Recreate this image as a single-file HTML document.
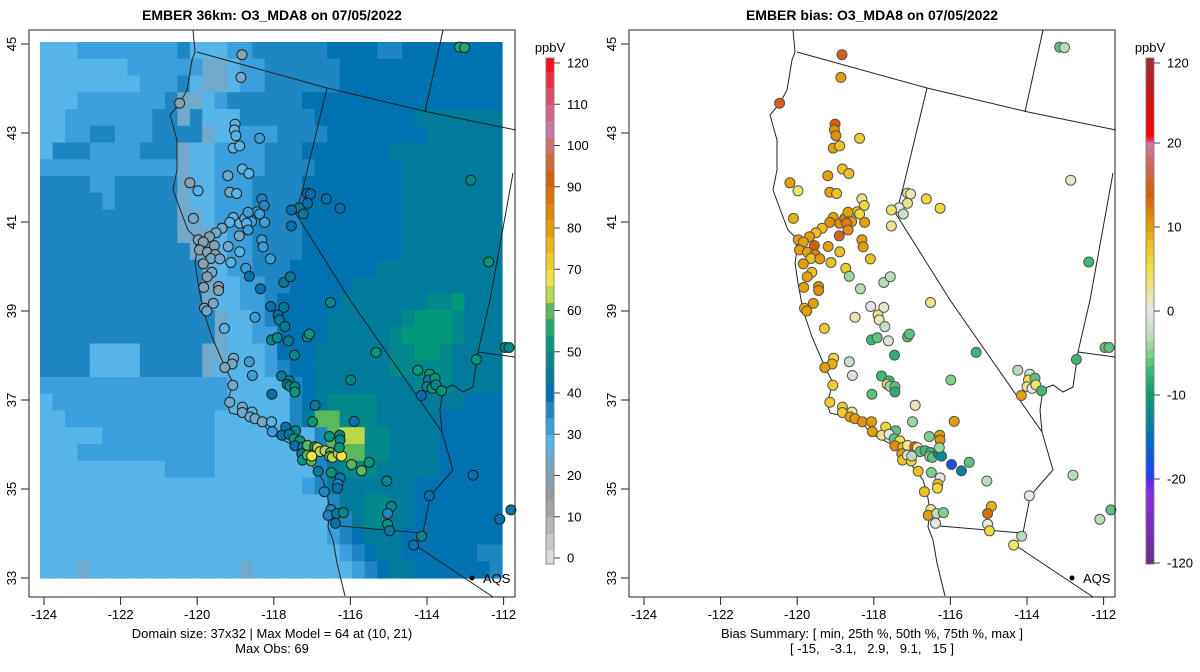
<!DOCTYPE html>
<html><head><meta charset="utf-8"><style>
html,body{margin:0;padding:0;background:#fff;}
svg{display:block;font-family:"Liberation Sans",sans-serif;}
</style></head><body>
<svg id="root" width="1200" height="672" viewBox="0 0 1200 672" xmlns="http://www.w3.org/2000/svg"></svg>
<script>
// ---------- DATA ----------
const gridRows = [
"1112222222231112233333344443344444444",
"1111111222222LL1223333334444444444444",
"1111111122231LL1223333334444444444444",
"11122222223LL1233333344444444444444444",
"11222222233L31113333334444444455555555",
"1122332223333L11222333344444444555555",
"13332222333L11222233344444445555555555",
"22222222222L11222233334444444555555555",
"33332233333L112223333444444445555555555",
"33333233333L112223333444444445555555555",
"33333333333LL12223333444444445555555555",
"33333333333LLL1223333444444445555555555",
"333333333333LL1223333444444445555555555",
"3333333333333L1223334444444555555555555",
"3333333333333L112233444445555555555556",
"3333333333333L112234444455555556675555",
"33333333333333L11234444555555677765555",
"33333333333333L11224444555556777765555",
"3333111133333LL11124445555556677655555",
"3333111133333L111123445555556666655555",
"2222222222222221111134555555556665555",
"1222222222222221111134566665555555444",
"1122222222222211111135GG6665555544444",
"11111222222222111111113GYY66555544444",
"11122222222222111111113GGG66555544444",
"1111111111222211111111356665555544444",
"1111111111111111111112355555554444444",
"1111111111111111111111135566554444444",
"1111111111111111111111123566554444444",
"1111111111111111111111123455544444444",
"1111111111111111111111112345544444433",
"111L111111111111L111111112345544444433"
];
const codeValues = {L:22,"1":28,"2":32,"3":36,"4":40,"5":44,"6":48,"7":52,"8":56,G:60,Y:64};
const stLon = [-118.83,-118.86,-120.46,-119.01,-119.03,-118.99,-118.37,-119.06,-118.89,-118.82,-118.65,-119.20,-120.19,-119.98,-119.15,-118.97,-118.31,-118.25,-118.43,-118.37,-120.10,-119.06,-119.15,-118.89,-118.76,-118.67,-118.58,-118.71,-118.24,-118.67,-119.35,-119.51,-119.68,-118.90,-119.97,-119.84,-119.94,-119.73,-119.55,-119.53,-119.64,-119.41,-119.19,-118.89,-118.31,-118.28,-118.09,-119.12,-119.84,-119.62,-119.74,-118.73,-118.64,-119.83,-119.44,-119.44,-118.35,-117.74,-117.57,-119.58,-119.81,-118.08,-117.74,-117.12,-117.04,-117.12,-117.34,-117.54,-117.23,-117.54,-116.63,-116.27,-116.52,-119.75,-118.49,-117.89,-117.86,-117.71,-119.29,-118.06,-117.91,-117.62,-117.12,-117.07,-117.46,-115.33,-119.05,-119.09,-119.28,-118.64,-118.56,-117.80,-117.60,-117.65,-117.58,-117.45,-117.45,-118.05,-115.99,-119.07,-119.15,-118.82,-118.82,-118.57,-118.62,-118.49,-118.30,-118.06,-118.04,-116.92,-115.90,-116.99,-117.69,-117.43,-117.79,-117.60,-117.47,-117.32,-117.45,-117.24,-117.12,-116.93,-116.86,-116.79,-116.66,-116.52,-116.54,-116.47,-116.32,-116.23,-117.27,-117.25,-117.12,-117.02,-117.01,-116.55,-116.28,-116.27,-116.29,-115.97,-115.71,-115.51,-116.84,-116.50,-116.27,-116.33,-116.34,-116.68,-115.05,-114.24,-113.93,-113.96,-113.79,-114.00,-113.87,-113.77,-113.62,-114.15,-112.71,-111.96,-111.86,-112.80,-112.10,-113.94,-116.51,-116.58,-116.36,-116.18,-116.39,-114.93,-115.03,-115.03,-114.98,-114.14,-114.35,-111.81,-113.15,-113.02,-112.86,-112.39];
const stLat = [44.76,44.25,43.67,43.20,43.07,42.94,42.88,42.66,42.71,42.19,42.09,42.04,41.88,41.70,41.67,41.64,41.52,41.37,41.23,41.18,41.08,41.10,40.99,40.97,41.08,41.22,41.01,40.97,40.99,40.82,40.86,40.76,40.67,40.69,40.60,40.55,40.37,40.32,40.47,40.27,40.18,40.17,40.45,40.33,40.60,40.44,40.17,40.09,40.06,39.87,39.77,39.96,39.78,39.53,39.55,39.46,39.50,39.64,39.77,39.17,39.06,39.10,39.08,41.65,41.63,41.42,41.32,41.27,41.18,40.91,41.52,41.31,39.19,39.00,38.86,38.91,38.80,38.65,38.61,38.35,38.40,38.33,38.42,38.48,38.01,38.07,37.94,37.81,37.73,37.86,37.55,37.54,37.43,37.35,37.31,37.30,37.18,37.13,37.45,37.33,36.95,36.84,36.72,36.73,36.62,36.58,36.51,36.51,36.29,36.88,36.52,36.51,36.39,36.31,36.21,36.23,36.13,36.08,35.97,35.94,35.98,35.95,35.93,35.84,35.86,35.82,35.73,35.71,35.80,35.74,35.79,35.65,35.76,35.63,35.74,36.18,36.21,36.10,35.93,35.55,35.41,35.60,35.40,35.37,35.25,35.11,35.02,34.94,35.18,37.67,37.58,37.45,37.49,37.30,37.26,37.34,37.21,37.10,37.91,38.18,38.18,35.31,34.32,34.85,34.54,34.41,34.45,34.47,34.23,34.61,34.45,34.21,34.06,33.94,33.74,34.53,44.93,44.92,41.94,40.10];
const stObs = [18,24,18,27,27,27,30,26,28,28,29,22,20,26,23,28,34,34,30,32,22,28,27,27,28,30,30,27,32,30,23,22,20,22,20,20,20,20,18,20,22,22,24,28,31,31,30,28,20,22,20,33,40,20,20,20,40,43,43,22,22,40,42,40,40,40,42,38,42,38,40,40,48,22,30,40,42,44,28,48,48,42,52,52,48,50,25,22,21,30,31,45,48,42,46,48,50,40,48,22,23,23,24,27,22,22,24,28,30,44,40,50,40,48,40,44,50,52,38,42,60,50,63,64,65,60,58,62,64,66,44,50,60,60,66,52,48,48,50,60,58,52,44,50,40,36,38,36,48,50,50,45,52,48,50,46,52,38,50,46,46,40,40,38,36,34,44,48,38,48,36,50,42,48,38,44,55,55,48,52];
const stBias = [15,10,15,14,11,11,7,10,8,8,8,10,10,4,10,8,3,6,7,6,9,10,11,11,12,10,10,12,10,11,8,8,10,15,10,10,10,10,14,12,8,10,10,8,10,10,8,8,10,8,10,7,-4,10,11,11,-3,-3,-3,10,9,0,1,3,2,3,0,4,-2,3,6,6,3,10,2,3,2,-2,7,-7,-6,-1,-6,-6,-8,-7,6,9,10,-2,-1,-7,-7,4,-4,-6,-8,-6,-5,7,7,7,7,3,10,10,11,10,10,2,10,-4,6,-6,3,0,-6,5,11,8,3,14,3,-6,-7,-7,-4,-6,-12,-12,10,8,0,6,-3,-5,10,11,-4,-18,-13,-6,8,-5,0,8,6,8,-3,-3,-2,5,-6,3,0,4,-7,10,-7,-6,-6,-3,-3,0,3,10,-3,-5,0,9,13,0,6,-3,4,-6,-6,-3,1,-7];
const obsTicks = [0,10,20,30,40,50,60,70,80,90,100,110,120];
const biasTicks = [120,20,10,0,-10,-20,-120];
const lonTicks = [-124,-122,-120,-118,-116,-114,-112];
const latTicks = [33,35,37,39,41,43,45];

// ---------- HELPERS ----------
const NS = "http://www.w3.org/2000/svg";
const root = document.getElementById("root");
function mk(tag, attrs, parent){const e=document.createElementNS(NS,tag);for(const k in attrs)e.setAttribute(k,attrs[k]);(parent||root).appendChild(e);return e;}
function hex(c){return [parseInt(c.slice(1,3),16),parseInt(c.slice(3,5),16),parseInt(c.slice(5,7),16)];}
function interp(stops,v){
  if(v<=stops[0][0])return stops[0][1];
  for(let i=1;i<stops.length;i++){
    if(v<=stops[i][0]){const t=(v-stops[i-1][0])/(stops[i][0]-stops[i-1][0]);const a=hex(stops[i-1][1]),b=hex(stops[i][1]);
      return "rgb("+a.map((x,j)=>Math.round(x+(b[j]-x)*t)).join(",")+")";}
  }
  return stops[stops.length-1][1];
}
const obsStops=[[-2,"#e5e5e5"],[14,"#9a9a9a"],[22,"#7ea3bd"],[28,"#56b4e9"],[32,"#3a9fdc"],[36,"#1f86c4"],[40,"#0072b2"],[44,"#007b9c"],[48,"#00888a"],[52,"#00987a"],[56,"#22a86a"],[60,"#5cb85c"],[64,"#b8d84a"],[68,"#f0e442"],[74,"#efc020"],[80,"#e69f00"],[92,"#d55e00"],[104,"#cc79a7"],[112,"#e34a6a"],[122,"#ff0000"]];
const biasStops=[[-122,"#6a2c8c"],[-40,"#8b2be2"],[-22,"#5a28f5"],[-20,"#2040ff"],[-16,"#0066cc"],[-13,"#00839a"],[-10,"#009e73"],[-7,"#3cb870"],[-5,"#7fd08a"],[-3,"#b8deb8"],[-1,"#d8e4d8"],[0,"#e6e6e6"],[2,"#ebe6b0"],[5,"#f0e442"],[8,"#eec020"],[10,"#e69f00"],[14,"#d95f02"],[18,"#cc6a6a"],[20,"#cc79a7"],[24,"#ee3050"],[30,"#ff0000"],[122,"#a52a2a"]];
function obsColor(v){return interp(obsStops,Math.floor((v+2)/4)*4);}
function biasColor(v){return interp(biasStops,Math.abs(v)<=20?Math.round(v):v);}

// axis functions
const PX_PER_LON=38.3, PX_PER_LAT=44.5;
function xLon(lon,off){return off+44+(lon+124)*PX_PER_LON;}
function yLat(lat){return 578-(lat-33)*PX_PER_LAT;}
function yObsBar(v){return 558-v*4.125;}
function yBiasBar(v){if(v>20)return 143-(v-20)*0.8;if(v<-20)return 477+(-20-v)*0.86;return 311-v*8.4;}

// map shapes in panel pixels (left panel)
const coast=[[193,30],[195,52],[192,60],[187,90],[180,103],[170,115],[177,140],[177,170],[173,190],[183,217],[188,230],[195,237],[197,250],[195,263],[198,283],[203,310],[212,337],[225,367],[233,383],[227,403],[230,413],[247,417],[263,423],[270,433],[283,440],[297,447],[313,467],[323,480],[327,493],[330,510],[328,527],[333,540],[337,563],[345,596]];
const borders=[
 [[197,52],[327,88],[428,112],[516,130]],
 [[327,88],[303,188],[296,214],[350,300],[442,432]],
 [[443,30],[425,112]],
 [[513,173],[490,300],[478,352],[473,387],[463,392],[453,385],[443,389],[440,410],[442,432],[453,470],[438,487],[430,497],[423,533],[415,545]],
 [[478,352],[515,357]],
 [[340,526],[422,533]],
 [[415,545],[493,597]]
];

function panel(off, name, isBias){
  const g=mk("g",{});
  
  
  if(!isBias){
    const hm=mk("g",{},g);
    
    
    const cw=462/37, ch=536/32;
    gridRows.forEach((row,r)=>{
      for(let c=0;c<37;c++){
        const code=row[Math.min(c,row.length-1)];
        const v=codeValues[code];
        const cell=mk("rect",{x:(40+c*cw).toFixed(2),y:(42+r*ch).toFixed(2),width:(cw+0.6).toFixed(2),height:(ch+0.6).toFixed(2),fill:obsColor(v)},hm);
        
        
      }
    });
  }
  const cl=mk("polyline",{points:coast.map(p=>(p[0]+off)+","+p[1]).join(" "),fill:"none",stroke:"#222",'stroke-width':"1"},g);
  
  
  borders.forEach(b=>{
    const bl=mk("polyline",{points:b.map(p=>(p[0]+off)+","+p[1]).join(" "),fill:"none",stroke:"#222",'stroke-width':"1"},g);
    
    
  });
  for(let i=0;i<stLon.length;i++){
    const x=xLon(stLon[i],off), y=yLat(stLat[i]);
    if(x>off+513) continue;
    const c=mk("circle",{cx:x.toFixed(1),cy:y.toFixed(1),r:"5",fill:isBias?biasColor(stBias[i]):obsColor(stObs[i]),stroke:isBias?"#555":"#222",'stroke-width':"1"},g);
    
    
  }
  const aq=mk("circle",{cx:472+off,cy:578,r:2.5,fill:"#000"},g);
  
  
  const at=mk("text",{x:483+off,y:583,'font-size':"13",fill:"#000"},g);
  at.textContent="AQS";
  
  
  const fr=mk("rect",{x:29+off,y:30,width:486,height:567,fill:"none",stroke:"#222",'stroke-width':"1"},g);
  
  
  lonTicks.forEach(t=>{
    const x=xLon(t,off);
    const tk=mk("line",{x1:x,y1:597,x2:x,y2:605,stroke:"#222"},g);
    
    
    const tl=mk("text",{x:x,y:619,'font-size':"13",'text-anchor':"middle",fill:"#000"},g);
    tl.textContent=String(t);
    
    
  });
  latTicks.forEach(t=>{
    const y=yLat(t);
    const tk=mk("line",{x1:29+off,y1:y,x2:21+off,y2:y,stroke:"#222"},g);
    
    
    const tl=mk("text",{x:0,y:0,'font-size':"13",'text-anchor':"middle",fill:"#000",transform:"translate("+(16+off)+","+y+") rotate(-90)"},g);
    tl.textContent=String(t);
    
    
  });
}

function colorbar(x, name, isBias){
  const g=mk("g",{});
  
  
  for(let y=58;y<564;y++){
    let v;
    if(isBias){ if(y<143)v=20+(143-y)/0.8; else if(y>477)v=-20-(y-477)/0.86; else v=(311-y)/8.4; }
    else v=(558-y)/4.125;
    mk("rect",{x:x,y:y,width:8,height:1.2,fill:isBias?biasColor(v):obsColor(v)},g);
  }
  mk("rect",{x:x,y:58,width:8,height:506,fill:"none",stroke:"#777",'stroke-width':"0.8"},g);
  const ticks=isBias?biasTicks:obsTicks;
  ticks.forEach(t=>{
    const y=isBias?yBiasBar(t):yObsBar(t);
    mk("line",{x1:x+8,y1:y,x2:x+14,y2:y,stroke:"#444"},g);
    const tl=mk("text",{x:x+21,y:y+4.5,'font-size':"13",fill:"#000"},g);
    tl.textContent=String(t);
    
    
  });
  const u=mk("text",{x:x+4,y:52,'font-size':"13",'text-anchor':"middle",fill:"#000"},g);
  u.textContent="ppbV";
  
  
}

panel(0,'model-panel',false);
panel(600,'bias-panel',true);
colorbar(546,'model-colorbar',false);
colorbar(1146,'bias-colorbar',true);

function txt(x,y,s,name,bold){const t=mk("text",{x:x,y:y,'font-size':bold?"14":"13",'font-weight':bold?"bold":"normal",'text-anchor':"middle",fill:"#000"});t.textContent=s;return t;}
txt(272,20,"EMBER 36km: O3_MDA8 on 07/05/2022","left-title",true);
txt(872,20,"EMBER bias: O3_MDA8 on 07/05/2022","right-title",true);
txt(272,638,"Domain size: 37x32 | Max Model = 64 at (10, 21)","domain-summary");
txt(272,653,"Max Obs: 69","max-obs");
txt(872,638,"Bias Summary: [ min, 25th %, 50th %, 75th %, max ]","bias-summary-header");
const bs=txt(872,653,"[ -15,   -3.1,   2.9,   9.1,   15 ]","bias-summary-values");
bs.setAttribute('xml:space','preserve');
bs.style.whiteSpace='pre';
</script>
</body></html>
